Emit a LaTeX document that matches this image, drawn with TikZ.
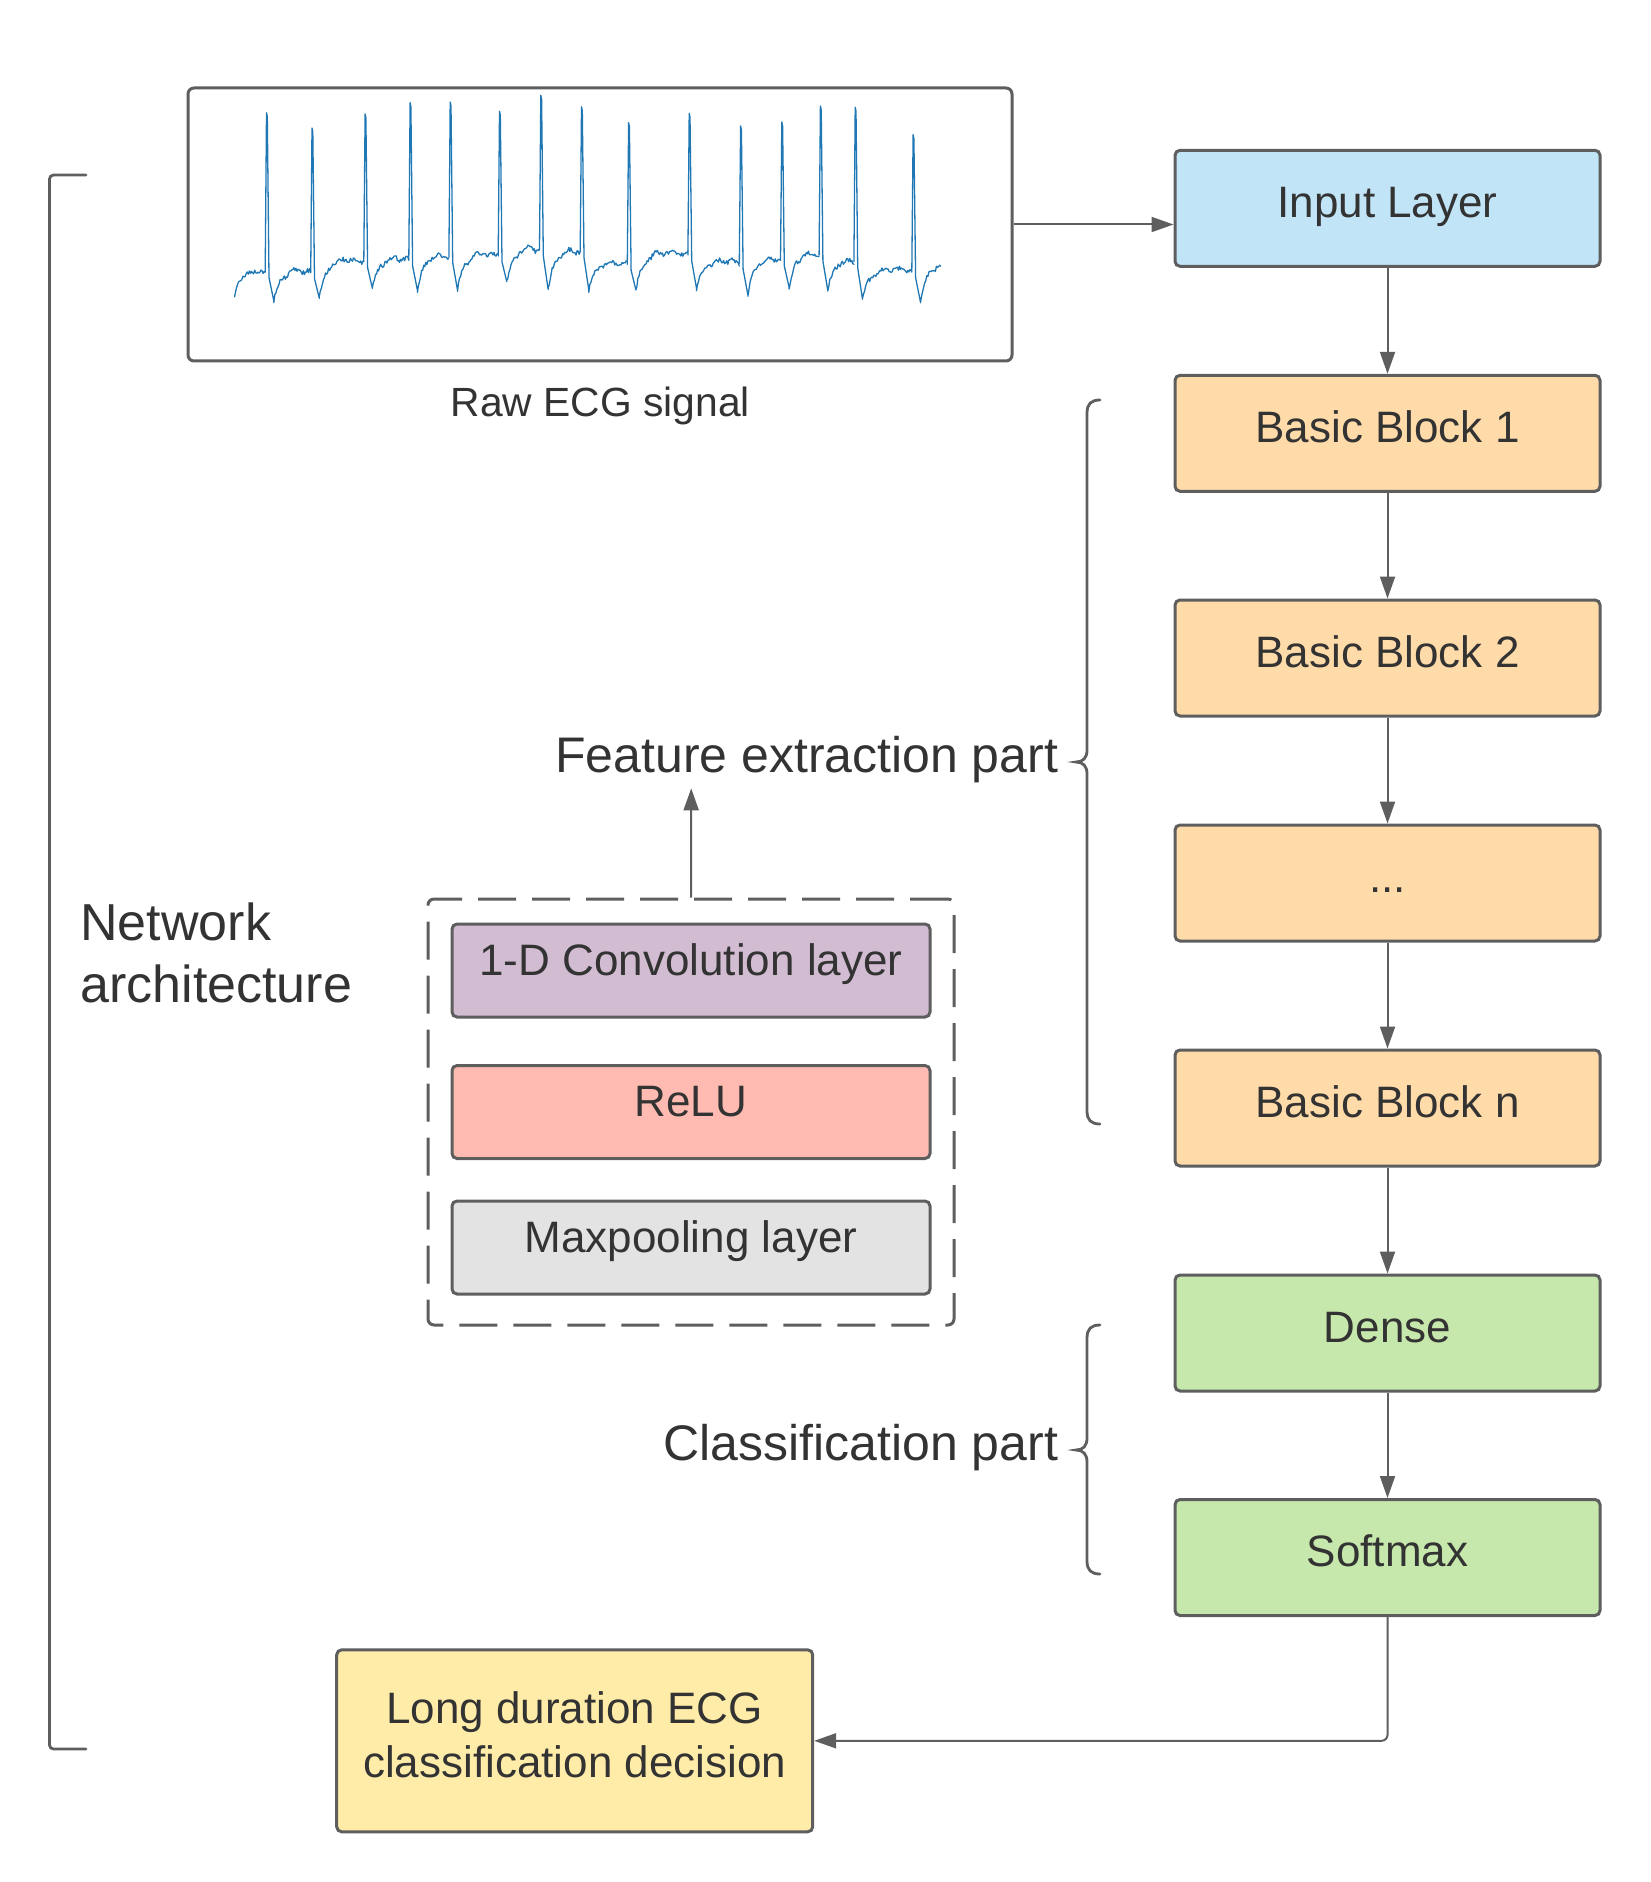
\documentclass[tikz,border=0pt]{standalone}
\usepackage{fontspec}
\setmainfont{Liberation Sans}
\usetikzlibrary{arrows.meta}
\definecolor{lc}{HTML}{5E5E5E}
\definecolor{tc}{HTML}{333333}
\definecolor{cblue}{HTML}{C1E4F7}
\definecolor{corange}{HTML}{FFDBA9}
\definecolor{cgreen}{HTML}{C7E8AC}
\definecolor{cyellow}{HTML}{FFECA9}
\definecolor{cpurple}{HTML}{D1BCD2}
\definecolor{cpink}{HTML}{FFBBB1}
\definecolor{cgray}{HTML}{E3E3E3}
\definecolor{ecgblue}{HTML}{1F77B4}
\newcommand\fmain{\fontsize{22pt}{26.7pt}\selectfont}
\newcommand\flarge{\fontsize{25pt}{30pt}\selectfont}
\newcommand\fnet{\fontsize{26pt}{31pt}\selectfont}
\newcommand\fsmall{\fontsize{20.4pt}{24pt}\selectfont}
\begin{document}
\begin{tikzpicture}[x=0.5pt,y=-0.5pt,
  colbox/.style={draw=lc, line width=1.5pt, rounded corners=2.5pt,
    minimum width=212.5pt, minimum height=58pt, inner sep=0pt,
    text=tc, font=\fmain, text height=9pt, text depth=0pt},
  layerbox/.style={draw=lc, line width=1.5pt, rounded corners=2.5pt,
    minimum width=239pt, minimum height=46.5pt, inner sep=0pt,
    text=tc, font=\fmain, text height=4.5pt, text depth=0pt},
  conn/.style={draw=lc, line width=1pt, -{Triangle[length=11pt,width=7.5pt]}},
  brace/.style={draw=lc, line width=1.4pt, line cap=round},
  lbl/.style={text=tc, inner sep=0pt},
  ecg/.style={draw=ecgblue, line width=0.65pt, line join=round, line cap=round},
]
\useasboundingbox (0,0) rectangle (1650,1882);

% ECG panel
\node[draw=lc, line width=1.5pt, rounded corners=3pt, minimum width=412pt,
  minimum height=136.5pt, inner sep=0pt] (ecg) at (600,224.5) {};
\node[lbl, anchor=base, font=\fsmall] (rawlbl) at (600.4,416.7) {Raw ECG signal};

% ECG waveform
\pgfmathsetseed{11}
\draw[ecg] plot[domain=234.6:265.2, samples=30]
  (\x,{271.7+25*exp(max(-9,-(\x-234.6)/5))+2.4*rand});
\foreach \R/\P/\B/\T/\Bn/\Rn in {
266.8/112.7/271.7/300.7/272.7/312.3,
312.3/128.0/272.7/298.3/261.7/365.4,
365.4/114.0/261.7/288.3/260.0/410.4,
410.4/102.7/260.0/290.0/256.7/450.5,
450.5/102.0/256.7/290.0/256.0/499.8,
499.8/111.3/256.0/281.7/250.0/541.1,
541.1/95.3/250.0/289.3/251.7/581.8,
581.8/106.7/251.7/290.0/264.3/628.9,
628.9/122.7/264.3/290.0/255.0/689.5,
689.5/113.3/255.0/288.3/263.3/740.9,
740.9/126.0/263.3/295.0/260.0/782.1,
782.1/122.0/260.0/287.3/255.0/820.7,
820.7/106.0/255.0/290.0/261.7/855.5,
855.5/107.3/261.7/299.3/271.7/913.4,
913.4/134.7/271.7/301.7/266.0/942.3}{
  \pgfmathtruncatemacro\ns{max(2,(\Rn-\R-8.6)/1.0)}
  \draw[ecg] (\R-1.6,\B) -- (\R-0.3,\P) -- (\R+0.5,\P+4) -- (\R+2.2,\B+6) -- (\R+7,\T)
    -- plot[domain=\R+7:\Rn-1.6, samples=\ns]
    (\x,{\Bn+(\T-\Bn)*exp(max(-9,-(\x-\R-7)/7))-3*sin(180*(\x-\R-7)/(\Rn-\R-8.6))+1.8*sin(23*(\x-\R))+2.4*rand});
}

% right column
\node[colbox, fill=cblue]   (inp)  at (1387.5,208.3) {Input Layer};
\node[colbox, fill=corange] (bb1)  at (1387.5,433.3) {Basic Block 1};
\node[colbox, fill=corange] (bb2)  at (1387.5,658)   {Basic Block 2};
\node[colbox, fill=corange] (bbd)  at (1387.5,883)   {...};
\node[colbox, fill=corange] (bbn)  at (1387.5,1108)  {Basic Block n};
\node[colbox, fill=cgreen]  (dense) at (1387.5,1333) {Dense};
\node[colbox, fill=cgreen]  (soft) at (1387.5,1557.5) {Softmax};

\draw[conn] (ecg.east) -- (ecg.east -| inp.west);
\draw[conn] (inp) -- (bb1);
\draw[conn] (bb1) -- (bb2);
\draw[conn] (bb2) -- (bbd);
\draw[conn] (bbd) -- (bbn);
\draw[conn] (bbn) -- (dense);
\draw[conn] (dense) -- (soft);

% output box
\node[draw=lc, line width=1.5pt, rounded corners=2.5pt, fill=cyellow,
  minimum width=238pt, minimum height=91pt, inner sep=0pt,
  label={[lbl, font=\fmain, align=center, yshift=3pt]center:{Long duration ECG\\classification decision}}]
  (long) at (574.7,1740.8) {};
\draw[conn, rounded corners=3pt] (soft.south) |- (long.east);

% basic block detail
\node[draw=lc, line width=1.5pt, dash pattern=on 19pt off 8pt, rounded corners=3pt,
  minimum width=263pt, minimum height=213pt, inner sep=0pt] (dashbox) at (691,1112) {};
\node[layerbox, fill=cpurple] (conv) at (691,970.5) {1-D Convolution layer};
\node[layerbox, fill=cpink]   (relu) at (691,1112)  {ReLU};
\node[layerbox, fill=cgray]   (pool) at (691,1247.5) {Maxpooling layer};
\coordinate (featin) at (691.2,788.3);
\draw[conn] (dashbox.north) -- (featin);

% braces and labels
\draw[brace] (1100,400) .. controls (1091,400) and (1087,404) .. (1087,413)
  -- (1087,750) .. controls (1087,758) and (1083,762) .. (1076,762)
  .. controls (1083,762) and (1087,766) .. (1087,774)
  -- (1087,1111) .. controls (1087,1120) and (1091,1124) .. (1100,1124);
\node[lbl, anchor=base east, font=\flarge] (feat) at (1058.6,772.7) {Feature extraction part};

\draw[brace] (1100,1325) .. controls (1091,1325) and (1087,1329) .. (1087,1338)
  -- (1087,1438) .. controls (1087,1446) and (1083,1450) .. (1076,1450)
  .. controls (1083,1450) and (1087,1454) .. (1087,1462)
  -- (1087,1561) .. controls (1087,1570) and (1091,1574) .. (1100,1574);
\node[lbl, anchor=base east, font=\flarge] (cls) at (1058.6,1460.3) {Classification part};

\draw[brace, rounded corners=2pt] (86,175) -- (49.5,175) -- (49.5,1749) -- (86,1749);
\node[lbl, anchor=base west, font=\fnet, align=left] (net) at (80,1002)
  {Network\\architecture};
\end{tikzpicture}
\end{document}
